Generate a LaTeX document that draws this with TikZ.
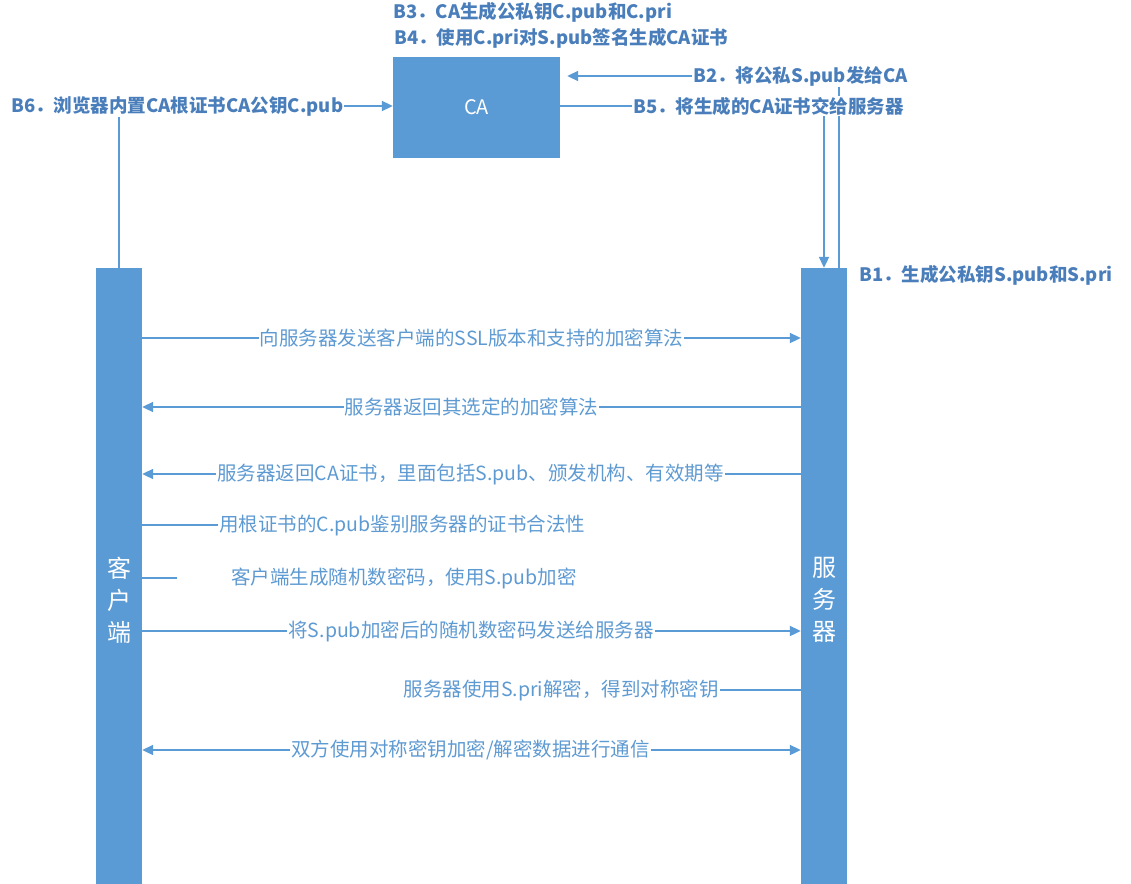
\documentclass[tikz,border=0pt]{standalone}
\usepackage{fontspec}
\setmainfont{Noto Sans CJK SC}
\usetikzlibrary{arrows.meta}
\definecolor{barblue}{HTML}{5B9BD5}
\definecolor{stepblue}{HTML}{4A7EBB}
\definecolor{msgblue}{HTML}{5E9AD2}

\begin{document}
\begin{tikzpicture}[x=1pt,y=-1pt,
			party/.style={fill=barblue,text=white,minimum width=46pt,minimum height=664pt,inner sep=0pt,align=center,font=\fontsize{24}{32}\selectfont},
			ca box/.style={fill=barblue,text=white,minimum width=167pt,minimum height=101pt,font=\fontsize{20}{24}\selectfont},
			step label/.style={text=stepblue,font=\bfseries\fontsize{18.5}{22}\selectfont,inner sep=1pt,anchor=west},
			msg label/.style={text=msgblue,font=\fontsize{19.5}{22}\selectfont,inner sep=1pt},
			wire/.style={draw=barblue,line width=2pt},
			msg/.style={wire,-{Triangle[length=11pt,width=10pt]}}]
			\useasboundingbox (0,0) rectangle (1131,883);

			\node[ca box] (ca) at (476.5,107.5) {CA};
			\node[party] (client) at (119,600) {客\\户\\端};
			\node[party] (server) at (824,600) {服\\务\\器};

			\node[step label] (b_1) at (858,275) {B1．生成公私钥S.pub和S.pri};
			\node[step label] (b_2) at (692,76) {B2．将公私S.pub发给CA};
			\node[step label] (b_3) at (392,12) {B3．CA生成公私钥C.pub和C.pri};
			\node[step label] (b_4) at (393,38) {B4．使用C.pri对S.pub签名生成CA证书};
			\node[step label] (b_5) at (632,106) {B5．将生成的CA证书交给服务器};
			\node[step label] (b_6) at (10,106) {B6．浏览器内置CA根证书CA公钥C.pub};
			\coordinate (s_out) at (839,268);

			\draw[msg] (b_6.east) -- (ca.west |- b_6);
			\draw[wire] (b_6.south -| client.north) -- (client.north);
			\draw[wire] (s_out) -- (s_out |- b_5.south);
			\draw[wire] (s_out |- b_5.north) -- (s_out |- b_2.south);
			\draw[msg,shorten >=7pt] (b_2.west) -- (ca.east |- b_2);
			\draw[wire] (ca.east |- b_5) -- (b_5.west);
			\draw[msg] (b_5.south -| server.north) -- (server.north);

			\node[msg label] (m_1) at (471.5,338) {向服务器发送客户端的SSL版本和支持的加密算法};
			\node[msg label] (m_2) at (471.5,407) {服务器返回其选定的加密算法};
			\node[msg label] (m_3) at (470.5,474) {服务器返回CA证书，里面包括S.pub、颁发机构、有效期等};
			\node[msg label,anchor=west] (m_4) at (218,525) {用根证书的C.pub鉴别服务器的证书合法性};
			\node[msg label,anchor=west] (m_5) at (230,578) {客户端生成随机数密码，使用S.pub加密};
			\node[msg label] (m_6) at (471,631) {将S.pub加密后的随机数密码发送给服务器};
			\node[msg label,anchor=east] (m_7) at (720,690) {服务器使用S.pri解密，得到对称密钥};
			\node[msg label] (m_8) at (470.5,750) {双方使用对称密钥加密/解密数据进行通信};
			\coordinate (c_5) at (177,578);

			\draw[wire] (client.east |- m_1) -- (m_1.west);
			\draw[msg] (m_1.east) -- (server.west |- m_1);
			\draw[wire] (server.west |- m_2) -- (m_2.east);
			\draw[msg] (m_2.west) -- (client.east |- m_2);
			\draw[wire] (server.west |- m_3) -- (m_3.east);
			\draw[msg] (m_3.west) -- (client.east |- m_3);
			\draw[wire] (client.east |- m_4) -- (m_4.west);
			\draw[wire] (client.east |- c_5) -- (c_5);
			\draw[wire] (client.east |- m_6) -- (m_6.west);
			\draw[msg] (m_6.east) -- (server.west |- m_6);
			\draw[wire] (m_7.east) -- (server.west |- m_7);
			\draw[msg] (m_8.west) -- (client.east |- m_8);
			\draw[msg] (m_8.east) -- (server.west |- m_8);
		\end{tikzpicture}
\end{document}
